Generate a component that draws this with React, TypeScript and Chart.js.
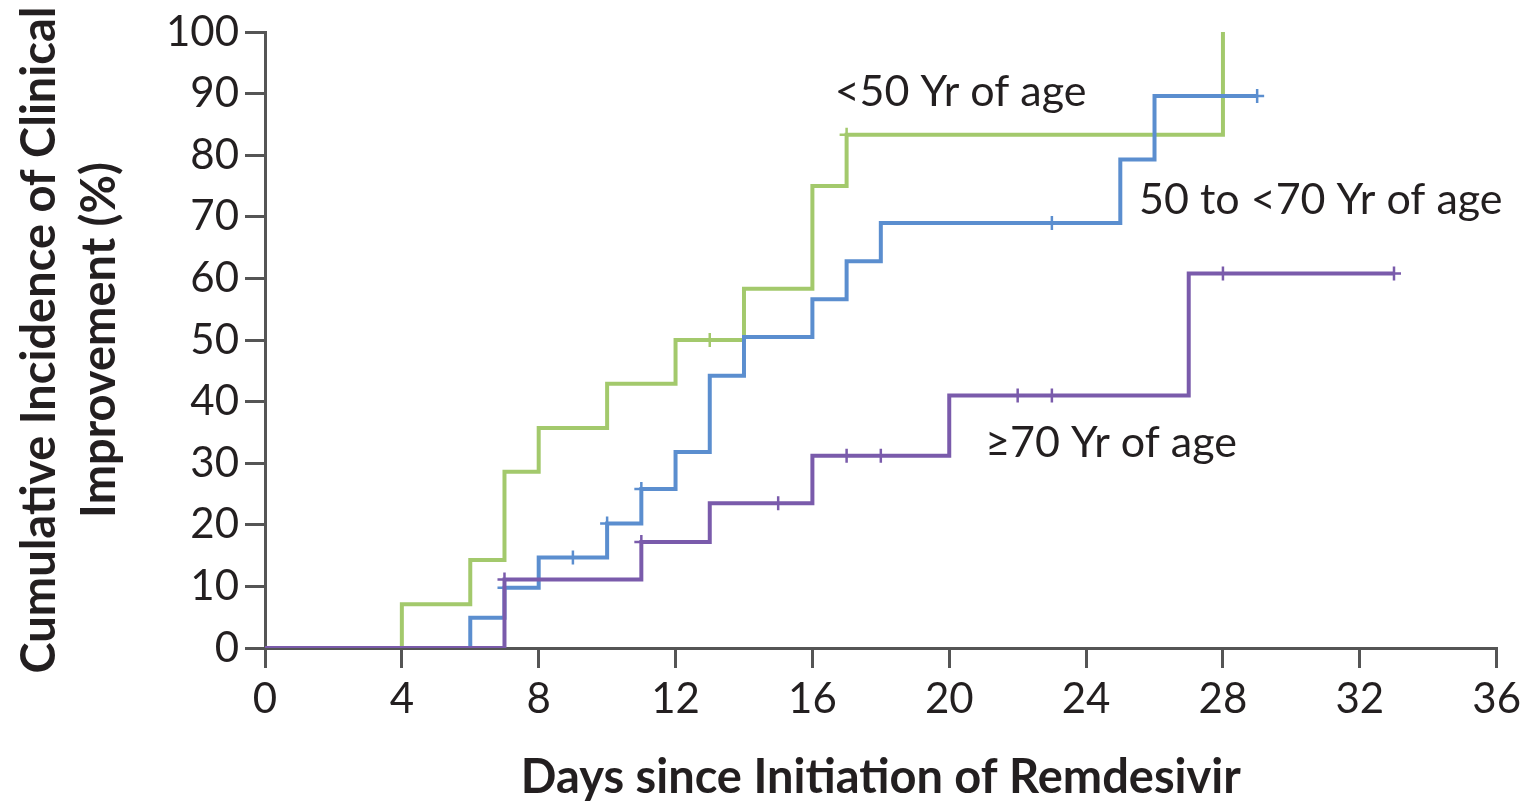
import React, { useEffect, useRef } from "react";
import { Chart, registerables } from "chart.js";

Chart.register(...registerables);

// ---- Data ----
const xTickValues = [0, 4, 8, 12, 16, 20, 24, 28, 32, 36];
const yTickValues = [0, 10, 20, 30, 40, 50, 60, 70, 80, 90, 100];

const under50Days = [0, 4, 6, 7, 8, 10, 12, 14, 16, 17, 28];
const under50Pct = [0, 7.1, 14.3, 28.6, 35.7, 42.9, 50.0, 58.3, 75.0, 83.3, 100];
const under50Censored = [13, 17];

const mid50to70Days = [0, 6, 7, 8, 10, 11, 12, 13, 14, 16, 17, 18, 25, 26, 29];
const mid50to70Pct = [0, 4.9, 9.8, 14.7, 20.2, 25.8, 31.8, 44.2, 50.5, 56.6, 62.8, 69.0, 79.3, 89.6, 89.6];
const mid50to70Censored = [7, 9, 10, 11, 23, 29];

const over70Days = [0, 7, 11, 13, 16, 20, 27, 33];
const over70Pct = [0, 11.1, 17.2, 23.5, 31.2, 41.0, 60.8, 60.8];
const over70Censored = [7, 11, 15, 17, 18, 22, 23, 28, 33];

const seriesLabels = ["<50 Yr of age", "50 to <70 Yr of age", "\u226570 Yr of age"];
const labelAnchorDays = [16.65, 25.55, 21.05];
const labelAnchorPct = [90.3, 72.7, 33.3];

const xTitle = "Days since Initiation of Remdesivir";
const yTitleLines = ["Cumulative Incidence of Clinical", "Improvement (%)"];

const GREEN = "#a3c96c";
const BLUE = "#5b8ecf";
const PURPLE = "#7a5bab";
const AXIS = "#555555";
const TEXT = "#231f20";
const FONT = "Lato, 'Open Sans', sans-serif";

function stepValue(days: number[], pct: number[], t: number): number {
  let v = pct[0];
  for (let i = 0; i < days.length; i++) {
    if (days[i] <= t) v = pct[i];
  }
  return v;
}

function toPoints(days: number[], pct: number[]) {
  return days.map((d, i) => ({ x: d, y: pct[i] }));
}

function censorPoints(days: number[], pct: number[], cens: number[]) {
  return cens.map((t) => ({ x: t, y: stepValue(days, pct, t) }));
}

const textPlugin = {
  id: "textPlugin",
  afterDraw(chart: any) {
    const { ctx, chartArea, scales } = chart;
    ctx.save();
    ctx.fillStyle = TEXT;
    ctx.font = `43px ${FONT}`;
    ctx.textAlign = "left";
    ctx.textBaseline = "middle";
    seriesLabels.forEach((t, i) => {
      ctx.fillText(
        t,
        scales.x.getPixelForValue(labelAnchorDays[i]),
        scales.y.getPixelForValue(labelAnchorPct[i])
      );
    });
    // x title
    ctx.font = `bold 47px ${FONT}`;
    ctx.textAlign = "center";
    ctx.fillText(xTitle, (chartArea.left + chartArea.right) / 2, 778);
    // y title
    const cy = (chartArea.top + chartArea.bottom) / 2;
    ctx.font = `bold 47px ${FONT}`;
    ctx.save();
    ctx.translate(40, cy);
    ctx.rotate(-Math.PI / 2);
    ctx.fillText(yTitleLines[0], 0, 0);
    ctx.restore();
    ctx.save();
    ctx.translate(100, cy);
    ctx.rotate(-Math.PI / 2);
    ctx.fillText(yTitleLines[1], 0, 0);
    ctx.restore();
    ctx.restore();
  },
};

export default function App() {
  const canvasRef = useRef<HTMLCanvasElement | null>(null);

  useEffect(() => {
    document.body.style.margin = "0";
    const canvas = canvasRef.current;
    if (!canvas) return;

    const lineDs = (label: string, days: number[], pct: number[], color: string) => ({
      type: "line" as const,
      label,
      data: toPoints(days, pct),
      borderColor: color,
      backgroundColor: color,
      borderWidth: 4,
      stepped: true,
      pointRadius: 0,
      pointHoverRadius: 0,
      fill: false,
      tension: 0,
    });
    const censDs = (label: string, days: number[], pct: number[], cens: number[], color: string) => ({
      type: "scatter" as const,
      label,
      data: censorPoints(days, pct, cens),
      borderColor: color,
      backgroundColor: color,
      pointStyle: "cross",
      pointRadius: 7,
      pointBorderWidth: 2.5,
      showLine: false,
    });

    const chart = new Chart(canvas, {
      type: "line",
      data: {
        datasets: [
          censDs("censored-70", over70Days, over70Pct, over70Censored, PURPLE),
          lineDs(seriesLabels[2], over70Days, over70Pct, PURPLE),
          censDs("censored-50-70", mid50to70Days, mid50to70Pct, mid50to70Censored, BLUE),
          lineDs(seriesLabels[1], mid50to70Days, mid50to70Pct, BLUE),
          censDs("censored-50", under50Days, under50Pct, under50Censored, GREEN),
          lineDs(seriesLabels[0], under50Days, under50Pct, GREEN),
        ] as any,
      },
      options: {
        animation: false,
        responsive: false,
        maintainAspectRatio: false,
        layout: {
          autoPadding: false,
          padding: { top: 32, right: 30, left: 0, bottom: 0 },
        } as any,
        plugins: {
          legend: { display: false },
          tooltip: { enabled: false },
        },
        scales: {
          x: {
            type: "linear",
            min: 0,
            max: 36,
            afterBuildTicks: (scale: any) => {
              scale.ticks = xTickValues.map((v) => ({ value: v }));
            },
            afterFit: (scale: any) => {
              scale.height = 158;
            },
            ticks: {
              color: TEXT,
              font: { family: FONT, size: 42 },
              padding: 6,
              maxRotation: 0,
              autoSkip: false,
            },
            grid: {
              drawOnChartArea: false,
              drawTicks: true,
              tickLength: 20,
              color: AXIS,
              lineWidth: 3,
            },
            border: { display: true, color: AXIS, width: 3 },
          },
          y: {
            type: "linear",
            min: 0,
            max: 100,
            afterBuildTicks: (scale: any) => {
              scale.ticks = yTickValues.map((v) => ({ value: v }));
            },
            afterFit: (scale: any) => {
              scale.width = 265;
            },
            ticks: {
              color: TEXT,
              font: { family: FONT, size: 42 },
              padding: 6,
              autoSkip: false,
            },
            grid: {
              drawOnChartArea: false,
              drawTicks: true,
              tickLength: 20,
              color: AXIS,
              lineWidth: 3,
            },
            border: { display: true, color: AXIS, width: 3 },
          },
        },
      },
      plugins: [textPlugin],
    });

    return () => {
      chart.destroy();
    };
  }, []);

  return (
    <div style={{ width: 1527, height: 806, background: "#ffffff" }}>
      <canvas ref={canvasRef} width={1527} height={806} style={{ display: "block" }} />
    </div>
  );
}
